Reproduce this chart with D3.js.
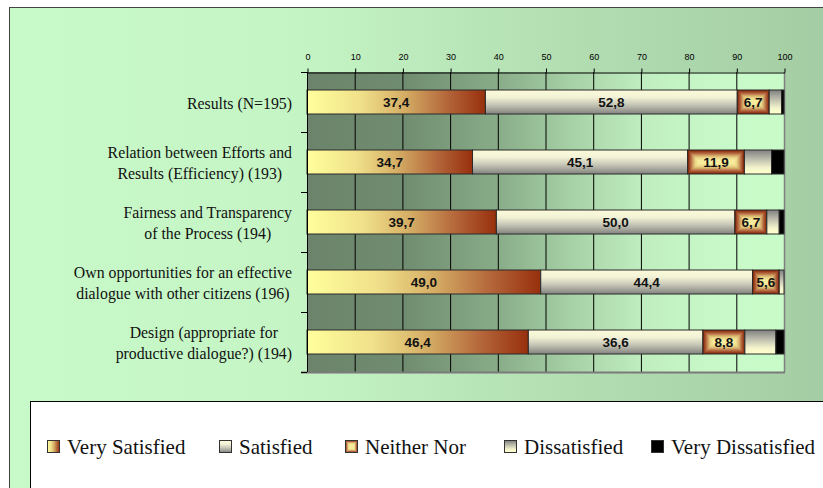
<!DOCTYPE html>
<html><head><meta charset="utf-8">
<script src="https://cdn.jsdelivr.net/npm/d3@7"></script>
<style>
html,body{margin:0;padding:0;background:#fff;overflow:hidden}
.serif{font-family:"Liberation Serif","Times New Roman","DejaVu Serif",serif}
.sans{font-family:"Liberation Sans",Arial,"DejaVu Sans",sans-serif}
</style>
</head><body><svg id="c" width="823" height="488"></svg>
<script>
// ---- data ----
const categories = [
  ["Results (N=195)"],
  ["Relation between Efforts and", "Results (Efficiency) (193)"],
  ["Fairness and Transparency", "of the Process (194)"],
  ["Own opportunities for an effective", "dialogue with other citizens (196)"],
  ["Design (appropriate for", "productive dialogue?) (194)"]
];
const seriesNames = ["Very Satisfied", "Satisfied", "Neither Nor", "Dissatisfied", "Very Dissatisfied"];
const verySatisfied    = [37.4, 34.7, 39.7, 49.0, 46.4];
const satisfied        = [52.8, 45.1, 50.0, 44.4, 36.6];
const neitherNor       = [6.7, 11.9, 6.7, 5.6, 8.8];
const dissatisfied     = [2.6, 5.7, 2.6, 1.0, 6.5];
const veryDissatisfied = [0.5, 2.6, 1.0, 0.0, 1.7];
const xTicks = [0, 10, 20, 30, 40, 50, 60, 70, 80, 90, 100];
const labelled = ["Very Satisfied", "Satisfied", "Neither Nor"];

const seriesValues = [verySatisfied, satisfied, neitherNor, dissatisfied, veryDissatisfied];
const catKeys = categories.map(c => c.join(" "));
const rows = catKeys.map((k, i) => {
  const r = {cat: k};
  seriesNames.forEach((s, j) => r[s] = seriesValues[j][i]);
  return r;
});

const svg = d3.select("#c");
const defs = svg.append("defs");

function linGrad(id, x2, y2, stops) {
  const g = defs.append("linearGradient").attr("id", id)
    .attr("x1", 0).attr("y1", 0).attr("x2", x2).attr("y2", y2);
  stops.forEach(s => g.append("stop").attr("offset", s[0]).attr("stop-color", s[1]));
}
linGrad("bgG", 1, 0, [[0, "#c8f9c8"], [0.33, "#c5f5c5"], [0.65, "#b3dfb3"], [1, "#a3cba3"]]);
linGrad("plotG", 1, 0, [[0, "#6b846b"], [0.2, "#708c70"], [0.4, "#88ac88"], [0.55, "#a6d0a6"], [0.7, "#bfedbf"], [0.85, "#c8f8c8"], [1, "#c9fbc9"]]);
linGrad("g0", 1, 0, [[0, "#ffff9c"], [0.3, "#f0e08a"], [0.55, "#d4ac64"], [0.8, "#b26238"], [1, "#97300c"]]);
linGrad("g1", 0, 1, [[0, "#fbfbda"], [0.3, "#f2f2d6"], [0.6, "#c8c8b8"], [1, "#838380"]]);
linGrad("g3", 0, 1, [[0, "#808080"], [0.4, "#c0c0b0"], [0.75, "#f4f4cc"], [1, "#ffffcc"]]);

const fills = {"Very Satisfied": "url(#g0)", "Satisfied": "url(#g1)", "Dissatisfied": "url(#g3)", "Very Dissatisfied": "#000"};
const neitherInterp = d3.piecewise(d3.interpolateRgb, ["#8a2a0a", "#b0603a", "#d2a668", "#ecd888", "#f6ec9c"]);

// frame
svg.append("rect").attr("x", 9.5).attr("y", 7.5).attr("width", 840).attr("height", 500)
  .attr("fill", "url(#bgG)").attr("stroke", "#444").attr("stroke-width", 1);

const X0 = 307, X1 = 784, Y0 = 72, Y1 = 372;
const x = d3.scaleLinear().domain([0, 100]).range([X0, X1]);
const y = d3.scaleBand().domain(catKeys).range([Y0, Y1]).paddingInner(0.6).paddingOuter(0.3);
const yb = d3.scaleBand().domain(catKeys).range([Y0, Y1]);

// plot background
svg.append("rect").attr("x", x(0)).attr("y", Y0).attr("width", x(100) - x(0)).attr("height", Y1 - Y0)
  .attr("fill", "url(#plotG)");

// gridlines
svg.append("g").selectAll("line").data(xTicks.filter(t => t > 0 && t < 100)).join("line")
  .attr("x1", d => x(d) + 0.5).attr("x2", d => x(d) + 0.5).attr("y1", Y0).attr("y2", Y1)
  .attr("stroke", "#000").attr("stroke-width", 1);
svg.append("line").attr("x1", x(100) + 0.5).attr("x2", x(100) + 0.5).attr("y1", Y0).attr("y2", Y1)
  .attr("stroke", "#808080").attr("stroke-width", 1.5);
svg.append("line").attr("x1", x(0) - 6).attr("x2", x(100) + 1).attr("y1", Y1 + 0.5).attr("y2", Y1 + 0.5)
  .attr("stroke", "#7a7a7a").attr("stroke-width", 2);

// stacked bars
const stack = d3.stack().keys(seriesNames)(rows);
const barG = svg.append("g");
stack.forEach(layer => {
  const name = layer.key;
  layer.forEach(d => {
    const cat = d.data.cat;
    const bx = x(d[0]), bw = x(d[1]) - x(d[0]);
    const by = y(cat), bh = y.bandwidth();
    if (bw <= 0) return;
    if (name === "Neither Nor") {
      const K = 9;
      const maxInset = Math.min(bw, bh) / 2 - 1;
      for (let k = 0; k < K; k++) {
        const ins = maxInset * k / K;
        barG.append("rect").attr("x", bx + ins).attr("y", by + ins)
          .attr("width", Math.max(0, bw - 2 * ins)).attr("height", Math.max(0, bh - 2 * ins))
          .attr("fill", neitherInterp(k / (K - 1)));
      }
      barG.append("rect").attr("x", bx).attr("y", by).attr("width", bw).attr("height", bh)
        .attr("fill", "none").attr("stroke", "#2a2a2a").attr("stroke-width", 1);
    } else {
      barG.append("rect").attr("x", bx).attr("y", by).attr("width", bw).attr("height", bh)
        .attr("fill", fills[name]).attr("stroke", "#2a2a2a").attr("stroke-width", 1);
    }
    if (labelled.includes(name)) {
      barG.append("text").attr("class", "sans").attr("x", bx + bw / 2).attr("y", by + bh / 2 + 0.5)
        .attr("text-anchor", "middle").attr("dominant-baseline", "central")
        .attr("font-weight", "bold").attr("font-size", "13.5px").attr("fill", "#111")
        .text(d3.format(".1f")(d[1] - d[0]).replace(".", ","));
    }
  });
});

// top axis
const axTop = svg.append("g").attr("transform", `translate(0.5,${Y0 + 0.5})`)
  .call(d3.axisTop(x).tickValues(xTicks).tickSize(4).tickPadding(9).tickSizeOuter(0).tickFormat(d3.format("d")));
axTop.attr("font-family", null);
axTop.select(".domain").attr("stroke", "#000");
axTop.selectAll(".tick line").attr("stroke", "#000");
axTop.selectAll("text").attr("class", "sans").attr("font-size", "9px").attr("fill", "#000");

// left axis line + ticks at band boundaries
svg.append("line").attr("x1", x(0) + 0.5).attr("x2", x(0) + 0.5).attr("y1", Y0).attr("y2", Y1)
  .attr("stroke", "#000");
const bounds = catKeys.map(k => yb(k)).concat([yb(catKeys[catKeys.length - 1]) + yb.bandwidth()]);
svg.append("g").selectAll("line").data(bounds).join("line")
  .attr("x1", x(0) - 6).attr("x2", x(0)).attr("y1", d => d + 0.5).attr("y2", d => d + 0.5)
  .attr("stroke", "#000");

// category labels
const labG = svg.append("g").attr("class", "serif").attr("font-size", "15.8px").attr("fill", "#111");
categories.forEach((lines, i) => {
  const cy = yb(catKeys[i]) + yb.bandwidth() / 2;
  const texts = lines.map((l, j) => labG.append("text").attr("text-anchor", "middle")
    .attr("dominant-baseline", "central")
    .attr("y", cy + (j - (lines.length - 1) / 2) * 21.5 + 1).text(l));
  const maxW = d3.max(texts, t => t.node().getComputedTextLength());
  const right = 292;
  texts.forEach(t => t.attr("x", right - maxW / 2));
});

// legend
svg.append("rect").attr("x", 30.5).attr("y", 401.5).attr("width", 820).attr("height", 120)
  .attr("fill", "#fff").attr("stroke", "#000").attr("stroke-width", 1);
const legX = [47, 219, 345, 504, 651];
const legG = svg.append("g");
seriesNames.forEach((s, i) => {
  const sx = legX[i], sy = 440, sz = 13;
  if (s === "Neither Nor") {
    const K = 5;
    for (let k = 0; k < K; k++) {
      const ins = 5 * k / K;
      legG.append("rect").attr("x", sx + ins).attr("y", sy + ins).attr("width", sz - 2 * ins).attr("height", sz - 2 * ins)
        .attr("fill", neitherInterp(k / (K - 1)));
    }
    legG.append("rect").attr("x", sx + 0.5).attr("y", sy + 0.5).attr("width", sz - 1).attr("height", sz - 1)
      .attr("fill", "none").attr("stroke", "#333");
  } else {
    legG.append("rect").attr("x", sx + 0.5).attr("y", sy + 0.5).attr("width", sz - 1).attr("height", sz - 1)
      .attr("fill", fills[s]).attr("stroke", "#333");
  }
  legG.append("text").attr("class", "serif").attr("x", sx + sz + 7).attr("y", 454)
    .attr("font-size", "21px").attr("fill", "#111").text(s);
});
</script>
</body></html>
